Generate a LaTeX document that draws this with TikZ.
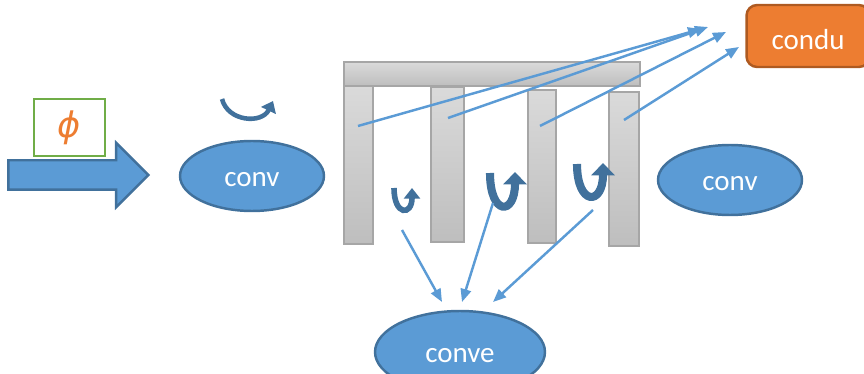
\documentclass[tikz,border=0pt]{standalone}
\usepackage{fontspec}
\setmainfont{Carlito}
\newfontfamily\phifont{DejaVu Sans}
\usepackage{tikz}
\usetikzlibrary{shapes.geometric, shapes.arrows, arrows.meta, positioning}

\definecolor{ppBlue}{HTML}{5B9BD5}
\definecolor{ppBlueDark}{HTML}{41719C}
\definecolor{ppOrange}{HTML}{ED7D31}
\definecolor{ppOrangeDark}{HTML}{AE5A21}
\definecolor{ppGreen}{HTML}{70AD47}
\definecolor{ppGrayTop}{HTML}{DADADA}
\definecolor{ppGrayBot}{HTML}{BEBEBE}
\definecolor{ppGrayLine}{HTML}{A6A6A6}

\begin{document}
\begin{tikzpicture}[
    x=0.02cm, y=-0.02cm,
    font=\fontsize{16.5}{18}\selectfont,
    every node/.style={inner sep=0pt},
    blob/.style={ellipse, draw=ppBlueDark, fill=ppBlue, line width=1.4pt, text=white, text height=12pt, text depth=0pt},
    outbox/.style={draw=ppOrangeDark, fill=ppOrange, rounded corners=6pt, line width=1.4pt, text=white, text height=15pt, text depth=0pt, minimum width=2.46cm, minimum height=1.24cm},
    phibox/.style={draw=ppGreen, fill=white, line width=1.4pt, minimum width=1.42cm, minimum height=1.14cm, text=ppOrange, font=\phifont\itshape\fontsize{20}{22}\selectfont},
    bigarrow/.style={single arrow, draw=ppBlueDark, fill=ppBlue, line width=1.4pt, inner xsep=0pt, inner ysep=0.27cm, minimum height=2.8cm, single arrow head extend=0.35cm, single arrow tip angle=90},
    bar/.style={draw=ppGrayLine, top color=ppGrayTop, bottom color=ppGrayBot, line width=0.8pt},
    arrow/.style={-{Triangle[length=2.6mm, width=2.1mm]}, line width=1.4pt, draw=ppBlue},
    uturn/.style={draw=ppBlueDark, line cap=butt}
  ]
  \useasboundingbox (0,0) rectangle (864,374);

  % Input side
  \node[bigarrow] (input) at (71,175) {};
  \node[phibox] (phi) at (69.5,127.5) {ϕ};
  \node[blob, minimum width=2.88cm, minimum height=1.4cm] (conv1) at (252,176) {conv};
  \draw[uturn, line width=2.6pt, -{Triangle[length=6pt, width=9pt]}] (222,99) .. controls (228,122) and (262,124) .. (273,101);

  % Structure: pillars and top bar
  \node[bar, minimum width=0.58cm, minimum height=3.16cm] (p1) at (358.5,165) {};
  \node[bar, minimum width=0.66cm, minimum height=3.10cm] (p2) at (447.5,164.5) {};
  \node[bar, minimum width=0.56cm, minimum height=3.06cm] (p3) at (542,166.5) {};
  \node[bar, minimum width=0.60cm, minimum height=3.08cm] (p4) at (624,169) {};
  \node[bar, minimum width=5.92cm, minimum height=0.48cm] (top) at (492,74) {};

  % Right side
  \node[blob, minimum width=2.88cm, minimum height=1.4cm] (conv2) at (730,180) {conv};
  \node[outbox] (condu) at (808,36) {condu};
  \node[blob, minimum width=3.4cm, minimum height=1.64cm] (conve) at (460,352) {conve};

  % Turning arrows between pillars
  \draw[uturn, line width=3.2pt, -{Triangle[length=6pt, width=9pt]}] (394,188) .. controls (394,216) and (412,216) .. (412,188);
  \draw[uturn, line width=4.6pt, -{Triangle[length=7pt, width=13pt]}] (490,173) .. controls (490,216) and (515,216) .. (515,172);
  \draw[uturn, line width=4.6pt, -{Triangle[length=7pt, width=13pt]}] (577,164) .. controls (577,206) and (603,206) .. (603,163);

  % Arrow ends
  \coordinate (s1) at (358,126);
  \coordinate (s2) at (448,118);
  \coordinate (s3) at (540,126);
  \coordinate (s4) at (624,120);
  \coordinate (c1) at (701,29);
  \coordinate (c2) at (708,27);
  \coordinate (c3) at (726,32);
  \coordinate (c4) at (739,47);
  \coordinate (u1) at (402,230);
  \coordinate (u2) at (493,203);
  \coordinate (u3) at (593,210);
  \coordinate (e1) at (442,302);
  \coordinate (e2) at (462,302);
  \coordinate (e3) at (493,302);

  % Arrows
  \draw[arrow] (s1) -- (c1);
  \draw[arrow] (s2) -- (c2);
  \draw[arrow] (s3) -- (c3);
  \draw[arrow] (s4) -- (c4);
  \draw[arrow] (u1) -- (e1);
  \draw[arrow] (u2) -- (e2);
  \draw[arrow] (u3) -- (e3);

\end{tikzpicture}
\end{document}
